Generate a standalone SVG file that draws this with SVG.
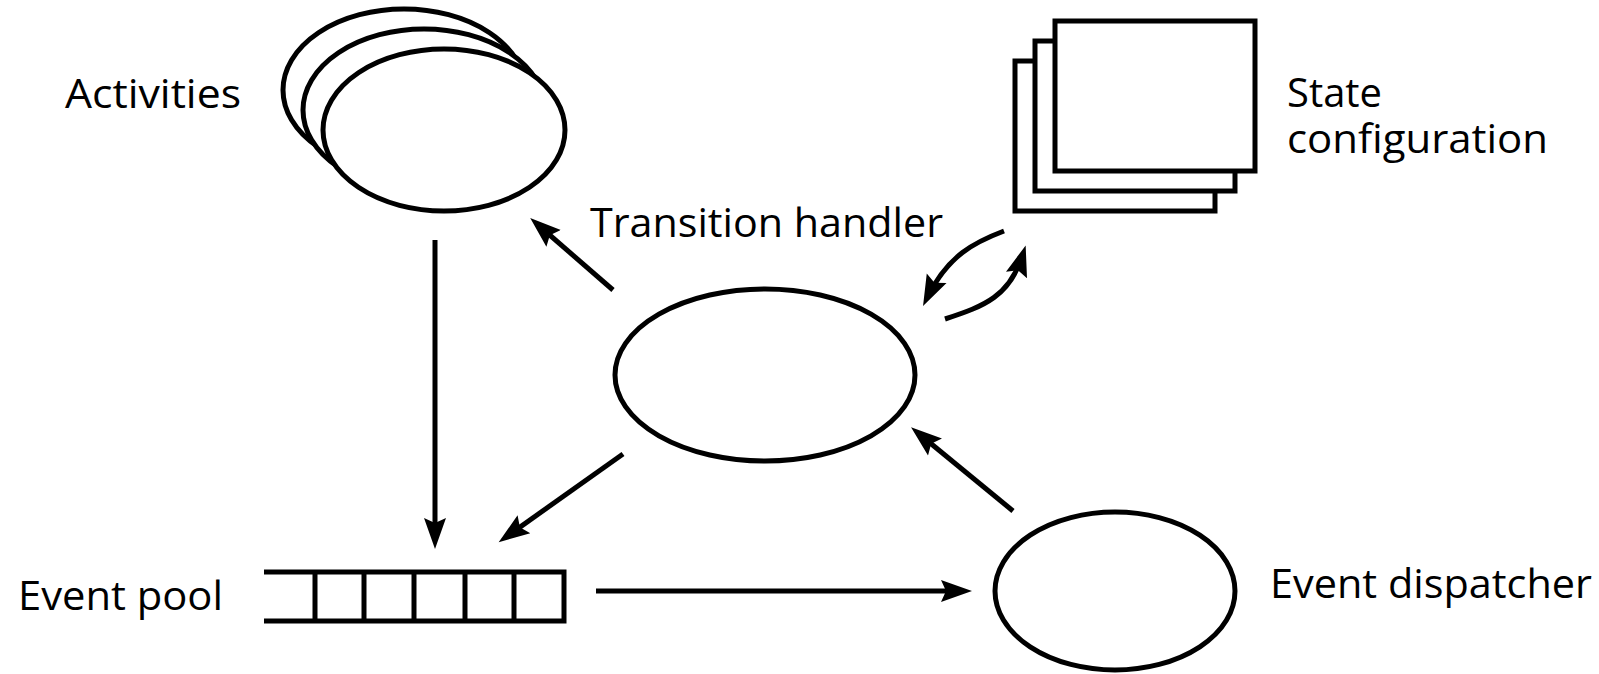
<svg xmlns="http://www.w3.org/2000/svg" width="1599" height="674" viewBox="0 0 1599 674">
<defs>
<style>
.shape{fill:#fff;stroke:#000;stroke-width:5}
.conn{fill:none;stroke:#000;stroke-width:5}
.lbl{font-family:"Open Sans","Liberation Sans",sans-serif;font-size:40px;fill:#000}
</style>
<marker id="ah" markerUnits="userSpaceOnUse" markerWidth="40" markerHeight="30" viewBox="0 -15 40 30" refX="22" refY="0" orient="auto">
<path d="M0,-11 L31,0 L0,11 L5,0 z" fill="#000"/>
</marker>
</defs>
<rect width="1599" height="674" fill="#fff"/>
<g id="activities">
<ellipse class="shape" cx="404" cy="90" rx="121" ry="81"/>
<ellipse class="shape" cx="424" cy="110" rx="121" ry="81"/>
<ellipse class="shape" cx="444" cy="130" rx="121" ry="81"/>
<text class="lbl" x="65" y="108" textLength="176" lengthAdjust="spacingAndGlyphs">Activities</text>
</g>
<g id="state-configuration">
<rect class="shape" x="1015" y="61" width="200" height="150"/>
<rect class="shape" x="1035" y="41" width="200" height="150"/>
<rect class="shape" x="1055" y="21" width="200" height="150"/>
<text class="lbl" x="1287" y="107" textLength="95" lengthAdjust="spacingAndGlyphs">State</text>
<text class="lbl" x="1287" y="153" textLength="261" lengthAdjust="spacingAndGlyphs">configuration</text>
</g>
<g id="transition-handler">
<ellipse class="shape" cx="765" cy="375" rx="150" ry="86"/>
<text class="lbl" x="590" y="237" textLength="353" lengthAdjust="spacingAndGlyphs">Transition handler</text>
</g>
<g id="event-dispatcher">
<ellipse class="shape" cx="1115" cy="591" rx="120" ry="79"/>
<text class="lbl" x="1270" y="598" textLength="322" lengthAdjust="spacingAndGlyphs">Event dispatcher</text>
</g>
<g id="event-pool">
<path class="conn" d="M264,572 H564 V621 H264 M315,572 V621 M364,572 V621 M414,572 V621 M465,572 V621 M514,572 V621"/>
<text class="lbl" x="18" y="610" textLength="205" lengthAdjust="spacingAndGlyphs">Event pool</text>
</g>
<g id="connectors">
<path class="conn" d="M435,240 L435,540" marker-end="url(#ah)"/>
<path class="conn" d="M613,290 L537,224" marker-end="url(#ah)"/>
<path class="conn" d="M623,454 L506,537" marker-end="url(#ah)"/>
<path class="conn" d="M596,591 L963,591" marker-end="url(#ah)"/>
<path class="conn" d="M1013,511 L918,433" marker-end="url(#ah)"/>
<path class="conn" d="M1004,231 C975,242 948,255 927,298" marker-end="url(#ah)"/>
<path class="conn" d="M945,319 C985,306 1010,296 1023,254" marker-end="url(#ah)"/>
</g>
</svg>
